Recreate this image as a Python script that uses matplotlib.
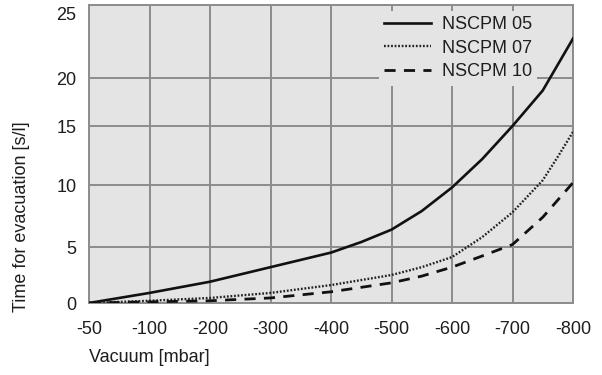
import numpy as np
import matplotlib
matplotlib.use("Agg")
import matplotlib.pyplot as plt
from matplotlib.transforms import ScaledTranslation

categories = ["-50", "-100", "-200", "-300", "-400", "-500", "-600", "-700", "-800"]
cat_values = [-50, -100, -200, -300, -400, -500, -600, -700, -800]

vac05 = [-50, -100, -200, -300, -400, -450, -500, -550, -600, -650, -700, -750, -800]
nscpm05 = [0.0, 0.9, 1.9, 3.2, 4.5, 5.4, 6.4, 7.9, 9.8, 12.2, 15.0, 18.7, 22.7]

vac07 = [-50, -100, -200, -300, -400, -500, -550, -600, -650, -700, -750, -775, -800]
nscpm07 = [0.0, 0.2, 0.45, 0.9, 1.6, 2.5, 3.2, 4.1, 5.8, 7.8, 10.4, 12.4, 14.5]

vac10 = [-50, -100, -200, -300, -400, -500, -550, -600, -650, -700, -750, -800]
nscpm10 = [0.0, 0.1, 0.2, 0.45, 1.0, 1.8, 2.4, 3.2, 4.2, 5.2, 7.4, 10.2]

yticks = [0, 5, 10, 15, 20, 25]
# visual positions of the y gridlines in the reference (uneven axis)
ypos = [0, 56, 118, 177, 225, 298]

plt.rcParams["font.family"] = ["Liberation Sans", "DejaVu Sans"]
FS = 13
TC = "#1e1e1e"

fig = plt.figure(figsize=(6.02, 3.75), dpi=100)
ax = fig.add_axes([89/602, 1-303/375, (573-89)/602, (303-5)/375])
ax.set_facecolor("#e4e4e4")

fwd = lambda v: np.interp(v, yticks, ypos)
inv = lambda v: np.interp(v, ypos, yticks)
ax.set_yscale("function", functions=(fwd, inv))

idx = np.arange(len(categories))
def to_x(v):
    return np.interp(-np.asarray(v, float), [-c for c in cat_values], idx)

ax.plot(to_x(vac05), nscpm05, color="#111111", lw=1.9, label="NSCPM 05", zorder=3)
ax.plot(to_x(vac07), nscpm07, color="#222222", lw=1.7, linestyle=(0, (0.75, 0.75)), label="NSCPM 07", zorder=3)
ax.plot(to_x(vac10), nscpm10, color="#111111", lw=2.0, linestyle=(0, (4.0, 3.0)), label="NSCPM 10", zorder=3)

ax.set_xlim(0, len(categories)-1)
ax.set_ylim(0, 25)
ax.set_xticks(idx)
ax.set_xticklabels(categories)
ax.set_yticks(yticks)
ax.set_yticklabels([str(t) for t in yticks])
ax.grid(True, color="#8c8c8c", lw=1.4, zorder=1)
ax.set_axisbelow(True)
for s in ax.spines.values():
    s.set_color("#8c8c8c")
    s.set_linewidth(1.4)
ax.tick_params(axis="both", length=0, labelsize=FS, colors=TC)
ax.tick_params(axis="x", pad=13)
ax.tick_params(axis="y", pad=9)
# top label sits slightly below the frame in the reference
top_lab = ax.get_yticklabels()[-1]
top_lab.set_transform(top_lab.get_transform() + ScaledTranslation(0, -8/100, fig.dpi_scale_trans))

ax.set_xlabel("Vacuum [mbar]", fontsize=FS, color=TC)
ax.xaxis.set_label_coords(0.0, -0.155)
ax.xaxis.label.set_ha("left")
ax.set_ylabel("Time for evacuation [s/l]", fontsize=FS, color=TC)
ax.yaxis.set_label_coords(-0.122, 0.29)

leg = ax.legend(loc="upper right", bbox_to_anchor=(0.945, 1.01), frameon=True,
                fontsize=FS, handlelength=2.6, labelspacing=0.35,
                handletextpad=0.6, borderpad=0.3)
leg.get_frame().set_facecolor("#e4e4e4")
leg.get_frame().set_edgecolor("none")
leg.get_frame().set_alpha(1)
for t in leg.get_texts():
    t.set_color(TC)

fig.savefig("out.png", dpi=100)
